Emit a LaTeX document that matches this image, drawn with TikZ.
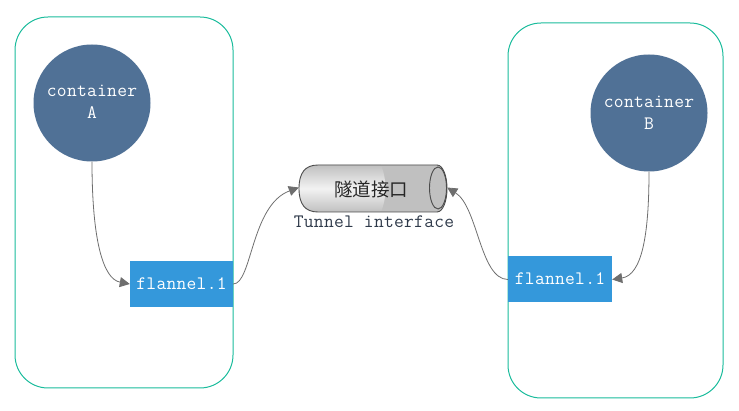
\documentclass[tikz,border=0pt]{standalone}
\usepackage{fontspec}
\setmonofont[LetterSpace=1.4]{Latin Modern Mono}
\newfontfamily\cjkfont{Noto Sans CJK SC}
\usetikzlibrary{arrows.meta}
\definecolor{framegreen}{HTML}{1ABC9C}
\definecolor{bluebox}{HTML}{3498DB}
\definecolor{circblue}{HTML}{507196}
\definecolor{linegrey}{HTML}{6E6E6E}
\definecolor{cylgrey}{HTML}{C0C0C0}
\definecolor{labelink}{HTML}{2F3A4A}
\tikzset{
  frame/.style={draw=framegreen,line width=1pt,rounded corners=33pt,fill=white,inner sep=0pt},
  contcircle/.style={circle,fill=circblue,minimum size=117pt,inner sep=0pt},
  monotext/.style={inner sep=0pt,align=center,font=\ttfamily\fontsize{19}{22}\selectfont},
  flannelbox/.style={fill=bluebox,minimum height=46pt,inner sep=0pt},
  cyledge/.style={draw=black!70,line width=0.9pt},
  conn/.style={draw=linegrey,line width=0.8pt,-{Triangle[length=10pt,width=10pt,fill=linegrey]}},
}
\begin{document}
\begin{tikzpicture}[x=1pt,y=-1pt]
\useasboundingbox (0,0) rectangle (739,411);
\node[frame,minimum width=218pt,minimum height=371pt] (fl) at (124,202.5) {};
\node[frame,minimum width=215pt,minimum height=375pt] (fr) at (615.5,210.5) {};
\node[contcircle] (ca) at (92,103) {};
\node[contcircle] (cb) at (649,113) {};
\node[monotext,text=white] (ta) at (92,102) {container\\A};
\node[monotext,text=white] (tb) at (649,112.5) {container\\B};
\node[flannelbox,minimum width=103pt] (fa) at (181.5,284) {};
\node[flannelbox,minimum width=104pt] (fb) at (560,279.5) {};
\node[monotext,text=white] (la) at (181.5,284) {flannel.1};
\node[monotext,text=white] (lb) at (560,279) {flannel.1};
% tunnel body
\fill[cylgrey] (318,165) -- (437,165) .. controls (443,165) and (447,176) .. (447,188.5) .. controls (447,201) and (443,212) .. (437,212) -- (318,212) -- cycle;
\begin{scope}
\clip (299,188.5) .. controls (299,173) and (305,165) .. (318,165) -- (381,165) .. controls (387,180) and (387,197) .. (381,212) -- (318,212) .. controls (305,212) and (299,204) .. (299,188.5) -- cycle;
\shade[top color=cylgrey,bottom color=cylgrey,middle color=black!5] (299,165) rectangle (392,212);
\end{scope}
\draw[cyledge] (437,165) -- (318,165) .. controls (305,165) and (299,173) .. (299,188.5) .. controls (299,204) and (305,212) .. (318,212) -- (437,212);
\draw[cyledge] (437,165) .. controls (443,165) and (447,176) .. (447,188.5) .. controls (447,201) and (443,212) .. (437,212);
\draw[cyledge] (438,188) ellipse [x radius=8.5pt,y radius=21pt];
\node[minimum width=148pt,minimum height=47pt,inner sep=0pt] (tun) at (373,187.5) {};
\node[inner sep=0pt,font=\cjkfont\fontsize{18.5}{20}\selectfont,text=black!85] (tuntext) at (371,189) {隧道接口};
\node[monotext,text=labelink] (tunlabel) at (374,222) {Tunnel interface};
\path[conn] (ca.south) .. controls (92,240) and (103,279) .. (fa.west);
\path[conn] (fa.east) .. controls (252,284) and (251,205) .. (tun.west);
\path[conn] (fb.west) .. controls (480,279) and (478,207) .. (tun.east);
\path[conn] (cb.south) .. controls (649,235) and (642,275) .. (fb.east);
\end{tikzpicture}
\end{document}
